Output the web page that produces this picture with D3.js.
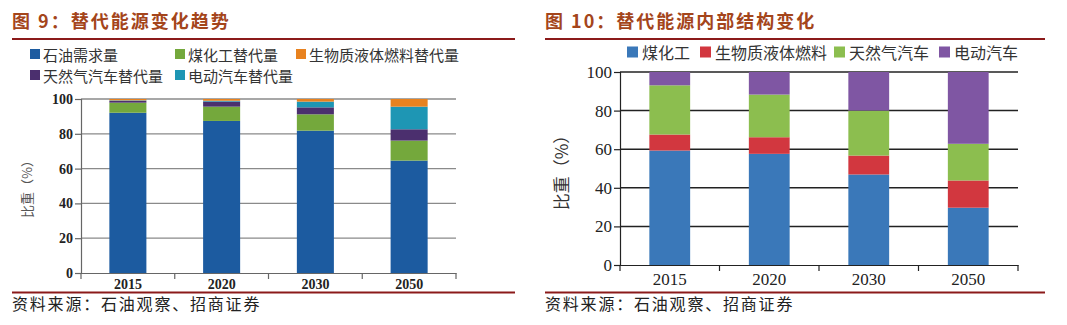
<!DOCTYPE html>
<html><head><meta charset="utf-8">
<script src="https://cdn.jsdelivr.net/npm/d3@7/dist/d3.min.js"></script>
<style>
html,body{margin:0;padding:0;background:#fff;}
svg{display:block;}
</style></head>
<body>
<svg id="c" width="1067" height="325"></svg>
<script>
// ---- Data: chart 9 ----
const years9 = ["2015", "2020", "2030", "2050"];
const oil9 = [92.1, 87.4, 81.8, 64.6];      // 石油需求量
const coal9 = [5.8, 8.2, 9.4, 11.5];        // 煤化工替代量
const gas9 = [1.0, 2.9, 4.0, 6.5];          // 天然气汽车替代量
const ev9 = [0.3, 0.5, 3.3, 13.0];          // 电动汽车替代量
const bio9 = [0.8, 1.0, 1.5, 4.4];          // 生物质液体燃料替代量
const yTicks9 = [0, 20, 40, 60, 80, 100];

// ---- Data: chart 10 ----
const years10 = ["2015", "2020", "2030", "2050"];
const coalChem10 = [59.3, 57.6, 46.9, 29.7]; // 煤化工
const bioLiq10 = [8.3, 8.6, 9.8, 14.1];      // 生物质液体燃料
const natGas10 = [25.5, 22.1, 23.3, 19.0];   // 天然气汽车
const elec10 = [6.9, 11.7, 20.0, 37.2];      // 电动汽车
const yTicks10 = [0, 20, 40, 60, 80, 100];

const svg = d3.select("#c");
const titleColor = "#a4451b";
const ruleColor = "#8b1a1a";
const serif = "'Liberation Serif','DejaVu Serif','Noto Sans CJK SC',serif";
const cjk = "'Noto Sans CJK SC',sans-serif";

// Titles, rules, sources
function frame(x0, x1, title) {
  svg.append("text").attr("x", x0).attr("y", 28)
    .attr("font-family", cjk).attr("font-weight", "bold").attr("font-size", 18)
    .attr("letter-spacing", 2).attr("fill", titleColor).text(title);
  svg.append("line").attr("x1", x0).attr("x2", x1).attr("y1", 39).attr("y2", 39)
    .attr("stroke", ruleColor).attr("stroke-width", 2);
  svg.append("line").attr("x1", x0).attr("x2", x1).attr("y1", 292.5).attr("y2", 292.5)
    .attr("stroke", ruleColor).attr("stroke-width", 2);
  svg.append("text").attr("x", x0).attr("y", 310)
    .attr("font-family", cjk).attr("font-size", 16).attr("letter-spacing", 1.8)
    .attr("fill", "#222").text("资料来源：石油观察、招商证券");
}
frame(12, 515, "图 9：替代能源变化趋势");
frame(545, 1045, "图 10：替代能源内部结构变化");

// Generic stacked chart
function stacked(opt) {
  const g = svg.append("g");
  const x = d3.scaleBand().domain(opt.cats).range([opt.left, opt.right])
    .paddingInner(opt.pad).paddingOuter(opt.pad / 2);
  const y = d3.scaleLinear().domain([0, 100]).range([opt.bottom, opt.top]);

  // gridlines
  g.selectAll(".grid").data(opt.yTicks.filter(d => d > 0)).join("line")
    .attr("x1", opt.left).attr("x2", opt.right)
    .attr("y1", d => y(d)).attr("y2", d => y(d))
    .attr("stroke", opt.gridColor).attr("stroke-width", opt.gridW);

  // stacks
  const rows = opt.cats.map((c, i) => {
    const r = { cat: c };
    opt.series.forEach(s => r[s.key] = s.values[i]);
    return r;
  });
  const stack = d3.stack().keys(opt.series.map(s => s.key))(rows);
  stack.forEach((layer, li) => {
    g.selectAll(null).data(layer).join("rect")
      .attr("x", d => x(d.data.cat))
      .attr("width", x.bandwidth())
      .attr("y", d => y(d[1]))
      .attr("height", d => y(d[0]) - y(d[1]))
      .attr("fill", opt.series[li].color);
  });

  // y axis
  const ya = d3.axisLeft(y).tickValues(opt.yTicks).tickSize(opt.tickLen).tickPadding(2);
  const yg = g.append("g").attr("transform", `translate(${opt.left},0)`).call(ya);
  yg.select(".domain").attr("stroke", opt.axisColor).attr("stroke-width", 1.2);
  yg.selectAll(".tick line").attr("stroke", opt.axisColor).attr("stroke-width", 1.2);
  yg.selectAll("text").attr("font-family", serif).attr("font-size", opt.tickFont)
    .attr("font-weight", opt.tickWeight).attr("fill", "#222");

  // x axis with ticks at band boundaries
  const xa = d3.axisBottom(x).tickSize(0).tickPadding(opt.xPad);
  const xg = g.append("g").attr("transform", `translate(0,${opt.bottom})`).call(xa);
  xg.select(".domain").attr("stroke", opt.axisColor).attr("stroke-width", 1.2);
  xg.selectAll("text").attr("font-family", serif).attr("font-size", opt.xFont)
    .attr("font-weight", opt.tickWeight).attr("fill", "#222");
  const bounds = opt.cats.map(c => x(c) - x.step() * opt.pad / 2).concat([opt.right]);
  g.selectAll(null).data(bounds).join("line")
    .attr("x1", d => d).attr("x2", d => d)
    .attr("y1", opt.bottom).attr("y2", opt.bottom + opt.tickLen)
    .attr("stroke", opt.axisColor).attr("stroke-width", 1.2);

  // axis title
  g.append("text")
    .attr("transform", `translate(${opt.titleX},${(opt.top + opt.bottom) / 2}) rotate(-90)`)
    .attr("text-anchor", "middle").attr("dominant-baseline", "middle")
    .attr("font-family", cjk).attr("font-size", opt.titleFont).attr("fill", opt.titleFill)
    .text("比重（%）");

  // legend
  opt.legend.forEach(l => {
    const s = opt.series.find(s => s.key === l.key);
    g.append("rect").attr("x", l.x).attr("y", l.y - opt.sw / 2)
      .attr("width", opt.sw).attr("height", opt.sw).attr("fill", s.color);
    g.append("text").attr("x", l.x + opt.sw + opt.lgap).attr("y", l.y)
      .attr("dominant-baseline", "central")
      .attr("font-family", cjk).attr("font-size", opt.legFont).attr("fill", "#333")
      .text(s.label);
  });
}

stacked({
  cats: years9, left: 81, right: 456, top: 99, bottom: 273, pad: 0.605,
  yTicks: yTicks9, gridColor: "#8a8a8a", gridW: 1.3, axisColor: "#666",
  tickLen: 6, tickFont: 14, xFont: 14, xPad: 6, tickWeight: "bold",
  titleX: 28, titleFont: 13, titleFill: "#555",
  sw: 10, lgap: 3, legFont: 15,
  series: [
    { key: "oil", label: "石油需求量", color: "#1c5ba0", values: oil9 },
    { key: "coal", label: "煤化工替代量", color: "#74a83c", values: coal9 },
    { key: "gas", label: "天然气汽车替代量", color: "#4b2f6e", values: gas9 },
    { key: "ev", label: "电动汽车替代量", color: "#1e96b4", values: ev9 },
    { key: "bio", label: "生物质液体燃料替代量", color: "#e8821f", values: bio9 }
  ],
  legend: [
    { key: "oil", x: 30, y: 54 },
    { key: "coal", x: 175, y: 54 },
    { key: "bio", x: 296, y: 54 },
    { key: "gas", x: 30, y: 75 },
    { key: "ev", x: 175, y: 75 }
  ]
});

stacked({
  cats: years10, left: 620, right: 1018, top: 72, bottom: 265, pad: 0.59,
  yTicks: yTicks10, gridColor: "#222", gridW: 1.5, axisColor: "#222",
  tickLen: 6, tickFont: 17, xFont: 17, xPad: 8, tickWeight: "normal",
  titleX: 563, titleFont: 17, titleFill: "#333",
  sw: 11, lgap: 4, legFont: 16,
  series: [
    { key: "coal", label: "煤化工", color: "#3a78b9", values: coalChem10 },
    { key: "bio", label: "生物质液体燃料", color: "#d2373f", values: bioLiq10 },
    { key: "gas", label: "天然气汽车", color: "#8cbe4f", values: natGas10 },
    { key: "elec", label: "电动汽车", color: "#7f56a3", values: elec10 }
  ],
  legend: [
    { key: "coal", x: 627, y: 52 },
    { key: "bio", x: 700, y: 52 },
    { key: "gas", x: 834, y: 52 },
    { key: "elec", x: 939, y: 52 }
  ]
});
</script>
</body></html>
